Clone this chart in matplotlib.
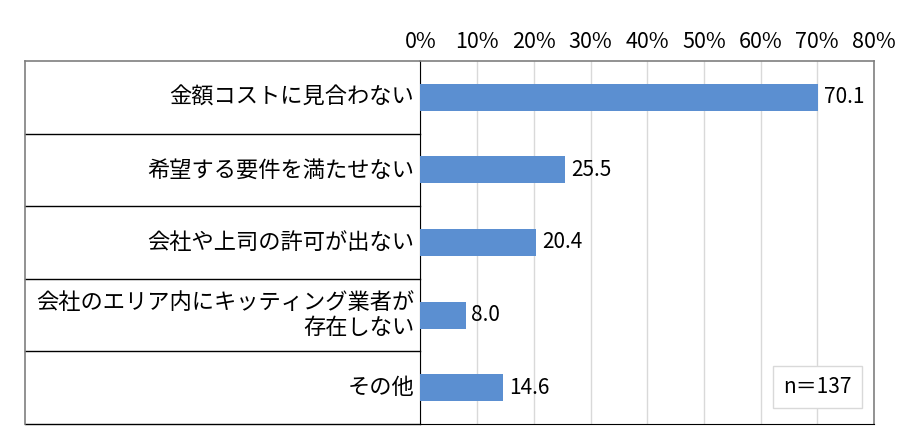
import matplotlib
matplotlib.use("Agg")
import matplotlib.pyplot as plt

plt.rcParams['font.family'] = ['Noto Sans CJK JP', 'DejaVu Sans']

categories = ["金額コストに見合わない", "希望する要件を満たせない", "会社や上司の許可が出ない",
              "会社のエリア内にキッティング業者が\n存在しない", "その他"]
values = [70.1, 25.5, 20.4, 8.0, 14.6]
ticks = [0, 10, 20, 30, 40, 50, 60, 70, 80]
tick_labels = [f"{t}%" for t in ticks]
n_note = "n＝137"

fig = plt.figure(figsize=(9, 4.48), dpi=100)
ax = fig.add_axes([0.4672, 0.0536, 0.5039, 0.8103])

y = list(range(len(categories)))
ax.barh(y, values, height=0.37, color='#5B8FD1', zorder=3)
ax.set_ylim(len(categories) - 0.5, -0.5)
ax.set_xlim(0, 80)
ax.set_xticks(ticks)
ax.set_xticklabels(tick_labels, fontsize=15.5)
ax.xaxis.tick_top()
ax.tick_params(axis='x', length=0, pad=6)
ax.set_yticks([])
ax.grid(axis='x', color='#D9D9D9', linewidth=1, zorder=0)

for s in ['top', 'right']:
    ax.spines[s].set_color('#7F7F7F')
    ax.spines[s].set_linewidth(1.2)
ax.spines['bottom'].set_color('black')
ax.spines['left'].set_color('black')

for yi, v in zip(y, values):
    ax.text(v + 1.0, yi, f"{v:.1f}", va='center', ha='left', fontsize=15, zorder=4)

# left label cells
for yi, cat in zip(y, categories):
    ax.text(-0.014, yi, cat, transform=ax.get_yaxis_transform(), ha='right', va='center',
            fontsize=16, multialignment='right', linespacing=1.1)

trans = ax.get_yaxis_transform()
x_left = -(420.5 - 25) / (874 - 420.5)
for b in range(1, len(categories)):
    ax.plot([x_left, 0], [b - 0.5, b - 0.5], transform=trans, color='black',
            linewidth=1, clip_on=False)
ax.plot([x_left, 0], [-0.5, -0.5], transform=trans, color='#7F7F7F', linewidth=1.2, clip_on=False)
ax.plot([x_left, 0], [len(categories) - 0.5] * 2, transform=trans, color='black', linewidth=1, clip_on=False)
ax.plot([x_left, x_left], [-0.5, len(categories) - 0.5], transform=trans, color='#7F7F7F',
        linewidth=1.2, clip_on=False)

ax.text(0.951, 0.102, n_note, transform=ax.transAxes, ha='right', va='center', fontsize=15,
        bbox=dict(boxstyle='square,pad=0.5', facecolor='white', edgecolor='#D9D9D9'), zorder=5)

fig.savefig("out.png", dpi=100)
